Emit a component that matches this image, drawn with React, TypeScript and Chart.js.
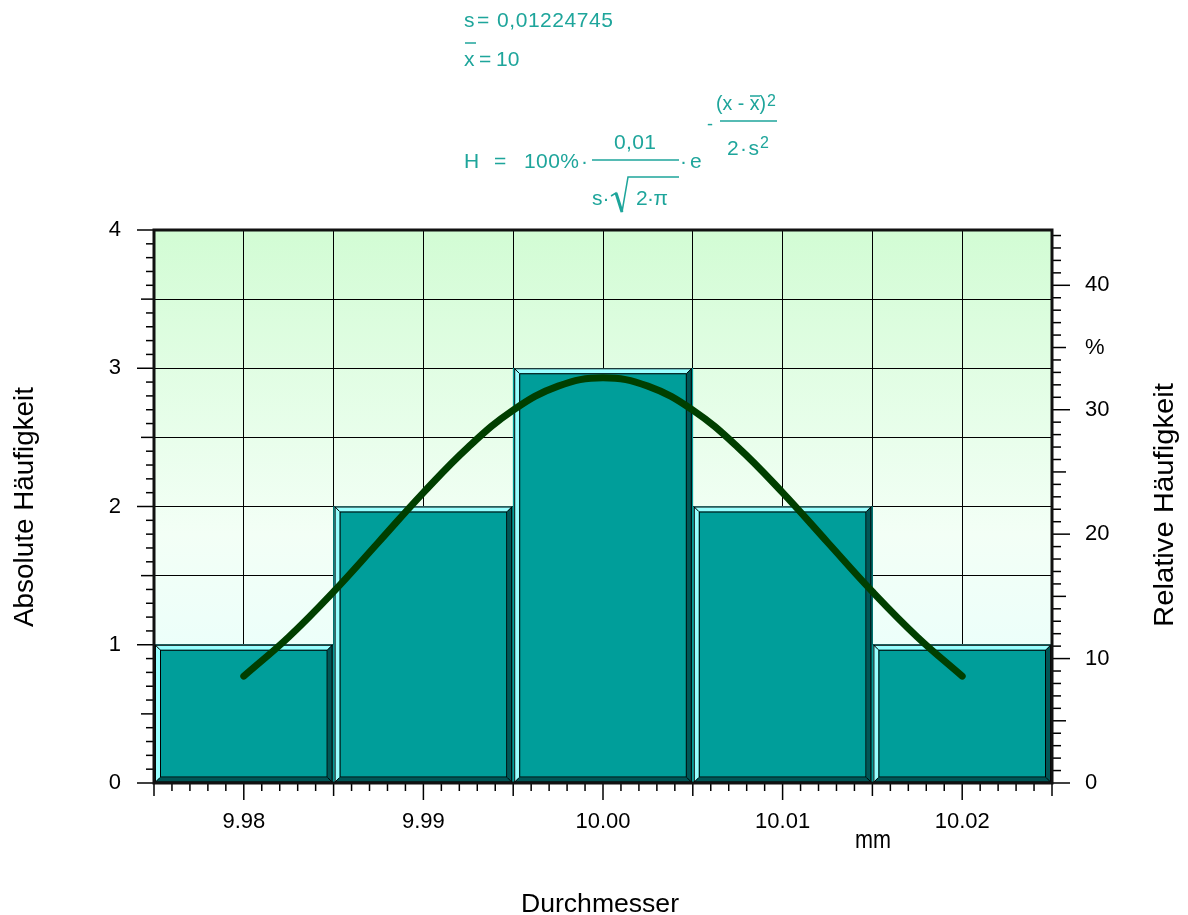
import React, { useEffect, useRef } from 'react';
import { Chart, registerables } from 'chart.js';

Chart.register(...registerables);

// ---- data ----
const binCenters = [9.98, 9.99, 10.0, 10.01, 10.02];
const absoluteCounts = [1, 2, 3, 2, 1];
const totalCount = 9;
const curveX = [9.98, 9.9825, 9.985, 9.9875, 9.99, 9.9925, 9.995, 9.9975, 10.0, 10.0025, 10.005, 10.0075, 10.01, 10.0125, 10.015, 10.0175, 10.02];
const curvePercent = [8.59, 11.74, 15.38, 19.35, 23.34, 27.0, 29.97, 31.9, 32.57, 31.9, 29.97, 27.0, 23.34, 19.35, 15.38, 11.74, 8.59];
const xTickValues = [9.98, 9.99, 10.0, 10.01, 10.02];
const xTickLabels = ['9.98', '9.99', '10.00', '10.01', '10.02'];
const yTickValues = [0, 1, 2, 3, 4];
const yTickLabels = ['0', '1', '2', '3', '4'];
const pctTickValues = [0, 10, 20, 30, 35, 40];
const pctTickLabels = ['0', '10', '20', '30', '%', '40'];

// ---- styles ----
const FONT = "'Liberation Sans', Arial, sans-serif";
const FACE = '#009e9a';
const LIGHT = '#99ffff';
const DARK = '#005656';
const CURVE = '#003f00';
const FORMULA = '#1ea59b';

function poly(ctx: CanvasRenderingContext2D, pts: number[][], fill: string) {
  ctx.beginPath();
  ctx.moveTo(pts[0][0], pts[0][1]);
  for (let i = 1; i < pts.length; i++) ctx.lineTo(pts[i][0], pts[i][1]);
  ctx.closePath();
  ctx.fillStyle = fill;
  ctx.fill();
}
function seg(ctx: CanvasRenderingContext2D, x1: number, y1: number, x2: number, y2: number) {
  ctx.beginPath();
  ctx.moveTo(x1, y1);
  ctx.lineTo(x2, y2);
  ctx.stroke();
}

const decor = {
  id: 'decor',
  beforeDraw(chart: any) {
    const { ctx, chartArea: a } = chart;
    const g = ctx.createLinearGradient(0, a.top, 0, a.bottom);
    g.addColorStop(0, '#d2fcd4');
    g.addColorStop(0.55, '#f3fff6');
    g.addColorStop(1, '#e4ffff');
    ctx.save();
    ctx.fillStyle = g;
    ctx.fillRect(a.left, a.top, a.right - a.left, a.bottom - a.top);
    ctx.restore();
  },
  afterDatasetDraw(chart: any, args: any) {
    if (args.meta.type !== 'bar') return;
    const ctx: CanvasRenderingContext2D = chart.ctx;
    const b = 5;
    ctx.save();
    args.meta.data.forEach((el: any) => {
      const { x, y, base, width } = el.getProps(['x', 'y', 'base', 'width'], true);
      const l = x - width / 2 + 1, r = x + width / 2 - 1, t = y, bt = base;
      poly(ctx, [[l, t], [r, t], [r - b, t + b], [l + b, t + b]], LIGHT);
      poly(ctx, [[l, t], [l + b, t + b], [l + b, bt - b], [l, bt]], LIGHT);
      poly(ctx, [[r, t], [r, bt], [r - b, bt - b], [r - b, t + b]], DARK);
      poly(ctx, [[l, bt], [r, bt], [r - b, bt - b], [l + b, bt - b]], DARK);
      ctx.strokeStyle = '#000';
      ctx.lineWidth = 1;
      ctx.strokeRect(l + 0.5, t + 0.5, r - l - 1, bt - t - 1);
      ctx.strokeRect(l + b + 0.5, t + b + 0.5, r - l - 2 * b - 1, bt - t - 2 * b - 1);
      seg(ctx, l, t, l + b, t + b);
      seg(ctx, r, t, r - b, t + b);
      seg(ctx, l, bt, l + b, bt - b);
      seg(ctx, r, bt, r - b, bt - b);
    });
    ctx.restore();
  },
  afterDraw(chart: any) {
    const { ctx, chartArea: a } = chart;
    const xs = chart.scales.x, ys = chart.scales.y, ps = chart.scales.y2;
    ctx.save();
    ctx.strokeStyle = '#000';
    ctx.lineWidth = 1.5;
    for (let i = 0; i <= 50; i++) {
      const px = xs.getPixelForValue(xs.min + (i * (xs.max - xs.min)) / 50);
      const len = i % 10 === 5 ? 17 : i % 5 === 0 ? 13 : 8;
      seg(ctx, px, a.bottom, px, a.bottom + len);
    }
    for (let i = 0; i <= 40; i++) {
      const py = ys.getPixelForValue(ys.min + (i * (ys.max - ys.min)) / 40);
      const len = i % 10 === 0 ? 17 : i % 5 === 0 ? 13 : 8;
      seg(ctx, a.left - len, py, a.left, py);
    }
    for (let i = 0; i <= 44; i++) {
      const py = ps.getPixelForValue(i);
      const len = i % 10 === 0 ? 18 : i % 5 === 0 ? 14 : 9;
      seg(ctx, a.right, py, a.right + len, py);
    }
    ctx.lineWidth = 3;
    ctx.strokeStyle = '#111';
    ctx.strokeRect(a.left, a.top, a.right - a.left, a.bottom - a.top);
    ctx.restore();
  },
};

export default function App() {
  const ref = useRef<HTMLCanvasElement>(null);

  useEffect(() => {
    if (!ref.current) return;
    const xGrid: { value: number }[] = [];
    xTickValues.forEach((v, i) => {
      xGrid.push({ value: v - 0.005 });
      xGrid.push({ value: v });
      if (i === xTickValues.length - 1) xGrid.push({ value: v + 0.005 });
    });
    const yGrid: { value: number }[] = [];
    yTickValues.forEach((v, i) => {
      yGrid.push({ value: v });
      if (i < yTickValues.length - 1) yGrid.push({ value: v + 0.5 });
    });
    const tickFont = { family: FONT, size: 22 };

    const chart = new Chart(ref.current, {
      type: 'bar',
      data: {
        datasets: [
          {
            type: 'line',
            label: 'H',
            data: curveX.map((x, i) => ({ x, y: curvePercent[i] })),
            yAxisID: 'y2',
            borderColor: CURVE,
            borderWidth: 7,
            borderCapStyle: 'round',
            borderJoinStyle: 'round',
            tension: 0.4,
            pointRadius: 0,
            fill: false,
          } as any,
          {
            type: 'bar',
            label: 'Absolute Häufigkeit',
            data: binCenters.map((x, i) => ({ x, y: absoluteCounts[i] })),
            yAxisID: 'y',
            backgroundColor: FACE,
            borderWidth: 0,
            barThickness: 'flex',
            categoryPercentage: 1,
            barPercentage: 1,
          } as any,
        ],
      },
      options: {
        animation: false,
        responsive: false,
        maintainAspectRatio: false,
        layout: { padding: { top: 230, left: 0, right: 0, bottom: 0 } },
        plugins: { legend: { display: false }, tooltip: { enabled: false } },
        scales: {
          x: {
            type: 'linear',
            min: 9.975,
            max: 10.025,
            offset: false,
            grid: { offset: false, color: '#000', lineWidth: 1, drawTicks: false },
            border: { display: false },
            ticks: {
              autoSkip: false,
              maxRotation: 0,
              minRotation: 0,
              padding: 26,
              color: '#000',
              font: tickFont,
              callback: (_v: any, i: number) => (i % 2 === 1 ? xTickLabels[(i - 1) / 2] : ''),
            },
            afterBuildTicks: (s: any) => {
              s.ticks = xGrid.map((t) => ({ ...t }));
            },
            afterFit: (s: any) => {
              s.height = 132;
            },
          },
          y: {
            type: 'linear',
            position: 'left',
            min: 0,
            max: 4,
            grid: { color: '#000', lineWidth: 1, drawTicks: false },
            border: { display: false },
            ticks: {
              autoSkip: false,
              padding: 33,
              color: '#000',
              font: tickFont,
              callback: (v: any) => {
                const k = yTickValues.indexOf(Number(v));
                return k >= 0 ? yTickLabels[k] : '';
              },
            },
            afterBuildTicks: (s: any) => {
              s.ticks = yGrid.map((t) => ({ ...t }));
            },
            afterFit: (s: any) => {
              s.width = 154;
            },
          },
          y2: {
            type: 'linear',
            position: 'right',
            min: 0,
            max: (4 * 100) / totalCount,
            grid: { display: false, drawTicks: false },
            border: { display: false },
            ticks: {
              autoSkip: false,
              padding: 33,
              color: '#000',
              font: tickFont,
              callback: (v: any) => {
                const k = pctTickValues.indexOf(Number(v));
                return k >= 0 ? pctTickLabels[k] : '';
              },
            },
            afterBuildTicks: (s: any) => {
              s.ticks = pctTickValues.map((value) => ({ value }));
            },
            afterFit: (s: any) => {
              s.width = 136;
            },
          },
        },
      } as any,
      plugins: [decor],
    });
    return () => chart.destroy();
  }, []);

  return (
    <div style={{ position: 'absolute', left: 0, top: 0, width: 1188, height: 915, background: '#fff', overflow: 'hidden' }}>
      <canvas ref={ref} width={1188} height={915} style={{ display: 'block', position: 'absolute', left: 0, top: 0 }} />
      <svg width={1188} height={915} style={{ position: 'absolute', left: 0, top: 0, pointerEvents: 'none' }} fontFamily={FONT}>
        <g fill={FORMULA} fontSize={21}>
          <text x={464} y={27}>s</text>
          <text x={477} y={27}>=</text>
          <text x={497} y={27} textLength={116} lengthAdjust="spacing">0,01224745</text>
          <text x={464} y={66}>x</text>
          <text x={479} y={66}>=</text>
          <text x={496} y={66}>10</text>
          <text x={464} y={168}>H</text>
          <text x={494} y={168}>=</text>
          <text x={524} y={168} textLength={55} lengthAdjust="spacing">100%</text>
          <text x={581} y={168}>·</text>
          <text x={614} y={149} textLength={42} lengthAdjust="spacing">0,01</text>
          <text x={592} y={205}>s·</text>
          <text x={636} y={205} textLength={32} lengthAdjust="spacing">2·π</text>
          <text x={680} y={168}>·</text>
          <text x={690} y={168}>e</text>
          <text x={707} y={130} fontSize={18}>-</text>
          <text x={716} y={110} fontSize={20} textLength={50} lengthAdjust="spacingAndGlyphs">(x - x)</text>
          <text x={767} y={106} fontSize={16}>2</text>
          <text x={727} y={155} textLength={32} lengthAdjust="spacing">2·s</text>
          <text x={760} y={148} fontSize={16}>2</text>
        </g>
        <g stroke={FORMULA} strokeWidth={1.5} fill="none">
          <line x1={465} y1={43} x2={476} y2={43} />
          <line x1={592} y1={160} x2={679} y2={160} />
          <polyline points="611,196 616,193 622,212 628,177 679,177" />
          <line x1={616} y1={193} x2={622} y2={212} strokeWidth={3} />
          <line x1={720} y1={121} x2={777} y2={121} />
          <line x1={750} y1={96} x2={760} y2={96} />
        </g>
        <g fill="#000">
          <text x={600} y={912} fontSize={26} textAnchor="middle" textLength={158} lengthAdjust="spacingAndGlyphs">Durchmesser</text>
          <text transform="translate(33,507) rotate(-90)" fontSize={27} textAnchor="middle" textLength={240} lengthAdjust="spacingAndGlyphs">Absolute Häufigkeit</text>
          <text transform="translate(1173,505) rotate(-90)" fontSize={27} textAnchor="middle" textLength={244} lengthAdjust="spacingAndGlyphs">Relative Häufigkeit</text>
          <text x={855} y={848} fontSize={26} textLength={36} lengthAdjust="spacingAndGlyphs">mm</text>
        </g>
      </svg>
    </div>
  );
}
